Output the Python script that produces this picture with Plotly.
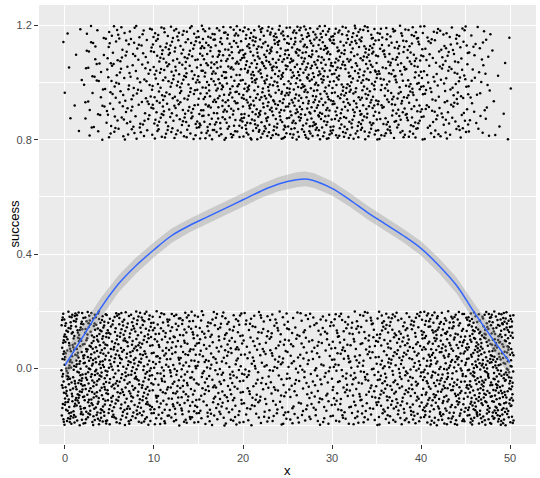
import numpy as np
import plotly.graph_objects as go

# ---- data ----
# smooth (loess) fit
fit_x = [0, 2, 4, 6, 8, 10, 12, 14, 16, 18, 20, 22, 24, 26, 27, 28, 30, 32, 34, 36, 38, 40, 42, 44, 46, 48, 50]
fit_y = [0.01, 0.11, 0.21, 0.295, 0.36, 0.415, 0.465, 0.50, 0.53, 0.56, 0.59, 0.62, 0.645, 0.66, 0.663, 0.657,
         0.63, 0.59, 0.545, 0.505, 0.465, 0.42, 0.36, 0.29, 0.195, 0.105, 0.02]
fit_se = [0.05, 0.04, 0.035, 0.03, 0.028, 0.026, 0.025, 0.024, 0.024, 0.024, 0.024, 0.024, 0.025, 0.026, 0.026, 0.026,
          0.025, 0.024, 0.024, 0.024, 0.024, 0.025, 0.026, 0.028, 0.031, 0.036, 0.05]

# point counts per x bin, for success = 1 and success = 0
bin_edges = [0, 2.5, 5, 10, 15, 20, 25, 30, 35, 40, 45, 47.5, 50]
count_1 = [10, 40, 130, 185, 220, 250, 260, 230, 190, 135, 38, 10]
count_0 = [185, 170, 270, 215, 180, 150, 140, 170, 210, 265, 165, 185]

x_ticks = [0, 10, 20, 30, 40, 50]
y_ticks = [0.0, 0.4, 0.8, 1.2]


# ---- jitter layout (geom_jitter: +-0.4 in x, +-0.2 in y), deterministic low-discrepancy ----
def halton(k, base):
    f, r = 1.0, 0.0
    while k > 0:
        f /= base
        r += f * (k % base)
        k //= base
    return r


def jittered(counts, level, seed):
    xs, ys = [], []
    for i, n in enumerate(counts):
        lo, hi = bin_edges[i], bin_edges[i + 1]
        for k in range(n):
            idx = k + 1 + seed * 97 + i * 131
            u = halton(idx, 2)
            v = halton(idx, 3)
            xs.append(-0.4 + (lo + (hi - lo) * u) * 50.8 / 50)
            ys.append(level + (v - 0.5) * 0.4)
    return xs, ys


x1, y1 = jittered(count_1, 1, 1)
x0, y0 = jittered(count_0, 0, 2)

fig = go.Figure()
fig.add_trace(go.Scatter(x=x1 + x0, y=y1 + y0, mode="markers",
                         marker=dict(color="black", size=2.5, line=dict(width=0)),
                         showlegend=False, hoverinfo="skip"))

fy = np.array(fit_y)
se = np.array(fit_se)
fig.add_trace(go.Scatter(x=fit_x, y=list(fy - se), mode="lines", line=dict(width=0),
                         showlegend=False, hoverinfo="skip"))
fig.add_trace(go.Scatter(x=fit_x, y=list(fy + se), mode="lines", line=dict(width=0),
                         fill="tonexty", fillcolor="rgba(153,153,153,0.4)",
                         showlegend=False, hoverinfo="skip"))
fig.add_trace(go.Scatter(x=fit_x, y=fit_y, mode="lines", line=dict(color="#3366FF", width=1.5, shape="spline"),
                         showlegend=False))

FONT = "Liberation Sans, Arial"
axis_common = dict(
    showgrid=True, gridcolor="white", gridwidth=1.2, zeroline=False, automargin=False,
    ticks="outside", ticklen=4, tickcolor="#333333", tickwidth=1,
    tickfont=dict(family=FONT, size=11, color="#4D4D4D"),
    showline=False,
)
fig.update_layout(
    width=540, height=478,
    margin=dict(l=39, r=4, t=5, b=34),
    paper_bgcolor="white", plot_bgcolor="#EBEBEB",
    xaxis=dict(axis_common, range=[-2.92, 52.92], tickvals=x_ticks,
               minor=dict(dtick=5, tick0=0, showgrid=True, gridcolor="white", gridwidth=0.6)),
    yaxis=dict(axis_common, range=[-0.265, 1.272], tickvals=y_ticks, tickformat=".1f",
               minor=dict(dtick=0.2, tick0=0, showgrid=True, gridcolor="white", gridwidth=0.6)),
    annotations=[
        dict(text="x", xref="paper", yref="paper", x=0.5, y=0, yshift=-17, showarrow=False,
             xanchor="center", yanchor="top", font=dict(family=FONT, size=13, color="black")),
        dict(text="success", xref="paper", yref="paper", x=0, y=0.5, xshift=-25, showarrow=False,
             textangle=-90, xanchor="center", yanchor="middle", font=dict(family=FONT, size=13, color="black")),
    ],
)

fig.write_html("out.html", config={"displayModeBar": False},
               post_script="document.body.style.margin='0';")
